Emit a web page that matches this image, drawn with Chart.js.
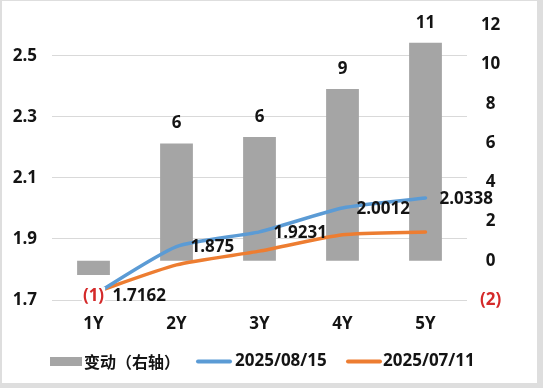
<!DOCTYPE html>
<html>
<head>
<meta charset="utf-8">
<script src="https://cdn.jsdelivr.net/npm/chart.js@4"></script>
<style>
  html, body { margin: 0; padding: 0; background: #dedede; }
  #frame { position: relative; width: 543px; height: 388px; background: #dedede; overflow: hidden; }
  #inner { position: absolute; left: 2px; top: 1px; width: 535px; height: 382px; background: #ffffff; }
  #c { position: absolute; left: 0; top: 0; }
</style>
</head>
<body>
<div id="frame">
  <div id="inner"></div>
  <canvas id="c" width="543" height="388"></canvas>
</div>
<script>
// ---- data ----
const categories = ['1Y', '2Y', '3Y', '4Y', '5Y'];
const changeBp = [-0.73, 5.97, 6.3, 8.75, 11.1];          // 变动（右轴）, bp
const curve0815 = [1.7162, 1.875, 1.9231, 2.0012, 2.0338]; // 2025/08/15
const curve0711 = [1.7235, 1.815, 1.860, 1.9137, 1.9228];  // 2025/07/11
const leftTicks = [1.7, 1.9, 2.1, 2.3, 2.5];
const seriesNames = ['变动（右轴）', '2025/08/15', '2025/07/11'];

const FONT = "'Open Sans', 'Noto Sans CJK SC', sans-serif";
const CJK_FONT = "'Noto Sans CJK SC', 'Open Sans', sans-serif";
const TXT = '#141414';
const RED = '#d42a2a';
const GRAY = '#a5a5a5';
const BLUE = '#5b9bd5';
const ORANGE = '#ed7d31';

const fmtNeg = v => v < 0 ? '(' + Math.round(-v) + ')' : String(Math.round(v));

const labelPlugin = {
  id: 'labels',
  afterDatasetsDraw(chart) {
    const ctx = chart.ctx;
    ctx.save();
    ctx.font = 'bold 17px ' + FONT;
    ctx.textBaseline = 'middle';
    const barMeta = chart.getDatasetMeta(0);
    barMeta.data.forEach((el, i) => {
      const v = chart.data.datasets[0].data[i];
      const txt = fmtNeg(v);
      ctx.textAlign = 'center';
      let y;
      if (v < 0) {
        y = el.y + 21;
        const w = ctx.measureText(txt).width;
        ctx.fillStyle = '#ffffff';
        ctx.fillRect(el.x - w / 2 - 1, y - 9, w + 2, 18);
        ctx.fillStyle = RED;
      } else {
        y = el.y - 20;
        ctx.fillStyle = TXT;
      }
      ctx.fillText(txt, el.x, y);
    });
    const lineMeta = chart.getDatasetMeta(1);
    ctx.textAlign = 'left';
    ctx.fillStyle = TXT;
    lineMeta.data.forEach((el, i) => {
      const v = chart.data.datasets[1].data[i];
      const off = i === 0 ? 19 : 14;
      ctx.fillText(String(v), el.x + off, el.y + 1);
    });
    ctx.restore();
  }
};

const legendPlugin = {
  id: 'customLegend',
  afterDraw(chart) {
    const ctx = chart.ctx;
    const ds = chart.data.datasets;
    const y = 361.5;
    ctx.save();
    ctx.textBaseline = 'middle';
    ctx.textAlign = 'left';
    ctx.fillStyle = GRAY;
    ctx.fillRect(50, 357, 32, 9);
    ctx.fillStyle = TXT;
    ctx.font = 'bold 16px ' + CJK_FONT;
    ctx.fillText(ds[0].label, 84, y);
    ctx.font = 'bold 17px ' + FONT;
    [[1, 198, 235], [2, 348, 383]].forEach(([i, x0, tx]) => {
      ctx.strokeStyle = ds[i].borderColor;
      ctx.lineWidth = 4;
      ctx.lineCap = 'round';
      ctx.beginPath();
      ctx.moveTo(x0, y);
      ctx.lineTo(x0 + 32, y);
      ctx.stroke();
      ctx.fillStyle = TXT;
      ctx.fillText(ds[i].label, tx, y);
    });
    ctx.restore();
  }
};

new Chart(document.getElementById('c'), {
  type: 'bar',
  data: {
    labels: categories,
    datasets: [
      {
        type: 'bar',
        label: seriesNames[0],
        data: changeBp,
        yAxisID: 'yR',
        backgroundColor: GRAY,
        borderWidth: 0,
        categoryPercentage: 1,
        barPercentage: 0.395,
        order: 3
      },
      {
        type: 'line',
        label: seriesNames[1],
        data: curve0815,
        yAxisID: 'yL',
        borderColor: BLUE,
        backgroundColor: BLUE,
        borderWidth: 3.5,
        pointRadius: 0,
        tension: 0.2,
        borderCapStyle: 'round',
        borderJoinStyle: 'round',
        order: 1
      },
      {
        type: 'line',
        label: seriesNames[2],
        data: curve0711,
        yAxisID: 'yL',
        borderColor: ORANGE,
        backgroundColor: ORANGE,
        borderWidth: 3.5,
        pointRadius: 0,
        tension: 0.2,
        borderCapStyle: 'round',
        borderJoinStyle: 'round',
        order: 2
      }
    ]
  },
  options: {
    responsive: false,
    animation: false,
    devicePixelRatio: 1,
    layout: { padding: { top: 19.6, left: 0, right: 0, bottom: 0 } },
    plugins: { legend: { display: false }, tooltip: { enabled: false } },
    scales: {
      x: {
        grid: { display: false, drawTicks: false },
        border: { display: false },
        ticks: { color: TXT, font: { family: FONT, size: 17, weight: 'bold' }, padding: 14, maxRotation: 0 },
        afterFit(s) { s.height = 88; }
      },
      yL: {
        position: 'left',
        min: 1.7,
        max: 2.6,
        afterBuildTicks(s) { s.ticks = leftTicks.map(v => ({ value: v })); },
        grid: { color: '#d9d9d9', lineWidth: 1, drawTicks: false },
        border: { display: false },
        ticks: {
          color: TXT,
          font: { family: FONT, size: 17, weight: 'bold' },
          padding: 15,
          callback: v => Number(v).toFixed(1)
        },
        afterFit(s) { s.width = 52; }
      },
      yR: {
        position: 'right',
        min: -2,
        max: 12,
        grid: { display: false, drawTicks: false },
        border: { display: false },
        ticks: {
          stepSize: 2,
          crossAlign: 'center',
          padding: 13,
          font: { family: FONT, size: 17, weight: 'bold' },
          color: c => (c.tick && c.tick.value < 0) ? RED : TXT,
          callback: v => fmtNeg(v)
        },
        afterFit(s) { s.width = 76; }
      }
    }
  },
  plugins: [labelPlugin, legendPlugin]
});
</script>
</body>
</html>
